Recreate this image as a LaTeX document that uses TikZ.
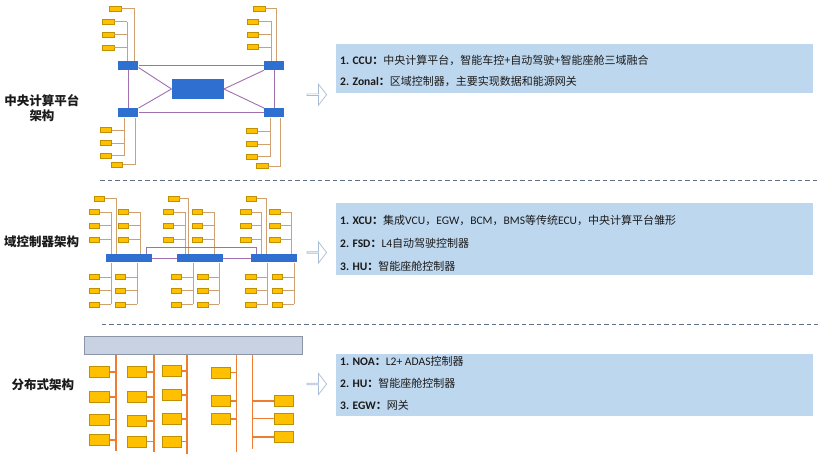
\documentclass[tikz,border=0pt]{standalone}
\usepackage{fontspec}
\setmainfont{Noto Sans CJK SC}
\newfontfamily\latf[Scale=1.05]{Carlito}
\usetikzlibrary{shapes.arrows}
\definecolor{blueC}{HTML}{2F6FD0}
\definecolor{purp}{HTML}{A070B0}
\definecolor{gold}{HTML}{FFC000}
\definecolor{goldb}{HTML}{BF9000}
\definecolor{tan}{HTML}{CFA070}
\definecolor{orng}{HTML}{ED7D31}
\definecolor{tbfill}{HTML}{BDD7EE}
\definecolor{arrc}{HTML}{A9BCD6}
\definecolor{gbarf}{HTML}{C8D2E2}
\definecolor{gbarb}{HTML}{8A95A5}
\definecolor{dashc}{HTML}{5F6F85}
\definecolor{txt}{HTML}{1A1A1A}
\begin{document}
\begin{tikzpicture}[x=1pt,y=-1pt,
  bluebox/.style={draw=none,fill=blueC,inner sep=0,rectangle},
  ytop/.style={draw=goldb,fill=gold,line width=0.5pt,inner sep=0,minimum width=11.5pt,minimum height=5pt},
  ymid/.style={draw=goldb,fill=gold,line width=0.5pt,inner sep=0,minimum width=10.3pt,minimum height=5pt},
  ybot/.style={draw=goldb,fill=gold,line width=0.6pt,inner sep=0,minimum width=19.5pt,minimum height=11pt},
  pline/.style={draw=purp,line width=0.9pt},
  tline/.style={draw=tan,line width=0.8pt},
  oline/.style={draw=orng,line width=1.6pt},
  tbox/.style={fill=tbfill,draw=none,inner sep=0,anchor=north west},
  tline1/.style={anchor=west,inner sep=0,font=\fontsize{11}{13}\selectfont,text=txt},
  arr/.style={single arrow,draw=arrc,fill=white,line width=0.7pt,minimum width=21pt,minimum height=19.5pt,single arrow head extend=4pt,single arrow tip angle=105,inner sep=0},
  sect/.style={font=\fontsize{12.5}{15.5}\selectfont\bfseries,text=txt,align=center,inner sep=0},
  dsh/.style={draw=dashc,line width=1pt,dash pattern=on 4.5pt off 3pt}
]
\useasboundingbox (0,0) rectangle (831,461);
\fill[white] (0,0) rectangle (831,461);

% ---------------- section labels
\node[sect] (lab1) at (42,108) {中央计算平台\\架构};
\node[sect] (lab2) at (41.7,242) {域控制器架构};
\node[sect] (lab3) at (42.8,385) {分布式架构};

% ---------------- dashed separators
\coordinate (d1a) at (100,180); \coordinate (d1b) at (818,180);
\coordinate (d2a) at (101.7,324.3); \coordinate (d2b) at (818,324.3);
\draw[dsh] (d1a) -- (d1b);
\draw[dsh] (d2a) -- (d2b);

% ---------------- top diagram: central compute
\node[bluebox,minimum width=20pt,minimum height=9pt] (TL) at (128.3,65.5) {};
\node[bluebox,minimum width=20pt,minimum height=9pt] (TR) at (274.3,65.5) {};
\node[bluebox,minimum width=20pt,minimum height=9pt] (BL) at (128.3,112.8) {};
\node[bluebox,minimum width=20pt,minimum height=9pt] (BR) at (274.3,112.8) {};
\node[bluebox,minimum width=52pt,minimum height=19.4pt] (CC) at (197.7,89) {};
\draw[pline] (TL.east) -- (TR.west);
\draw[pline] (BL.east) -- (BR.west);
\draw[pline] (TL.south) -- (BL.north);
\draw[pline] (TR.south) -- (BR.north);
\draw[pline] ([yshift=-2pt]TL.east) -- (CC.west);
\draw[pline] (BL.north east) -- (CC.west);
\draw[pline] (TR.south west) -- (CC.east);
\draw[pline] (BR.north west) -- (CC.east);

% TL cluster
\node[ytop] (tl0) at (115,8.8) {};
\draw[tline] (tl0.east) -| ([xshift=5.7pt]TL.north);
\coordinate (vTL) at (127.3,21.7);
\draw[tline] (vTL) -- (vTL |- TL.north);
\foreach \y [count=\k] in {21.7,34.5,47.5}{
  \node[ytop] (tl\k) at (108.3,\y) {};
  \draw[tline] (tl\k.east) -- (tl\k.east -| vTL);
}
% TR cluster
\node[ytop] (tr0) at (259.2,8.4) {};
\draw[tline] (tr0.east) -| ([xshift=2.4pt]TR.north);
\coordinate (vTR) at (271.7,21.7);
\draw[tline] (vTR) -- (vTR |- TR.north);
\foreach \y [count=\k] in {21.7,34.3,47}{
  \node[ytop] (tr\k) at (252.8,\y) {};
  \draw[tline] (tr\k.east) -- (tr\k.east -| vTR);
}
% BL cluster
\coordinate (vBL) at (124.3,155.7);
\draw[tline] (vBL |- BL.south) -- (vBL);
\foreach \y [count=\k] in {130,143,155.7}{
  \node[ytop] (bl\k) at (105.8,\y) {};
  \draw[tline] (bl\k.east) -- (bl\k.east -| vBL);
}
\node[ytop] (bl4) at (116.5,164.8) {};
\draw[tline] (bl4.east) -| ([xshift=6.7pt]BL.south);
% BR cluster
\coordinate (vBR) at (270.7,156.7);
\draw[tline] (vBR |- BR.south) -- (vBR);
\foreach \y [count=\k] in {131,144,156.7}{
  \node[ytop] (br\k) at (251.7,\y) {};
  \draw[tline] (br\k.east) -- (br\k.east -| vBR);
}
\node[ytop] (br4) at (262,166) {};
\draw[tline] (br4.east) -| ([xshift=6.4pt]BR.south);

% ---------------- middle diagram: domain controllers
\foreach \n/\bx/\tx/\tv/\lx/\lv/\rx/\rv/\blx/\blv/\brx/\brv in {
 1/128.8/99.3/116/94.2/111/123/140/94.2/111/120.3/137.3,
 2/199.7/173.7/188.3/168.3/185/197.5/214.3/176.5/193.3/202.8/219.3,
 3/274.2/251.3/266.7/245.7/261.7/274.8/291.7/250.8/267.7/277.3/294}{
  \node[bluebox,minimum width=45.7pt,minimum height=8pt] (bar\n) at (\bx,258.3) {};
  \node[ymid] (bar\n t) at (\tx,198.3) {};
  \coordinate (T\n) at (\tv,198.3);
  \draw[tline] (bar\n t.east) -- (T\n) -- (T\n |- bar\n.north);
  \coordinate (L\n) at (\lv,212);
  \draw[tline] (L\n) -- (L\n |- bar\n.north);
  \coordinate (R\n) at (\rv,212);
  \draw[tline] (R\n) -- (R\n |- bar\n.north);
  \coordinate (BLv\n) at (\blv,304.3);
  \draw[tline] (BLv\n |- bar\n.south) -- (BLv\n);
  \coordinate (BRv\n) at (\brv,304.3);
  \draw[tline] (BRv\n |- bar\n.south) -- (BRv\n);
  \foreach \y [count=\k] in {212,225.8,239.8}{
    \node[ymid] (bar\n l\k) at (\lx,\y) {};
    \draw[tline] (bar\n l\k.east) -- (bar\n l\k.east -| L\n);
    \node[ymid] (bar\n r\k) at (\rx,\y) {};
    \draw[tline] (bar\n r\k.east) -- (bar\n r\k.east -| R\n);
  }
  \foreach \y [count=\k] in {277,290.3,304.3}{
    \node[ymid] (bar\n bl\k) at (\blx,\y) {};
    \draw[tline] (bar\n bl\k.east) -- (bar\n bl\k.east -| BLv\n);
    \node[ymid] (bar\n br\k) at (\brx,\y) {};
    \draw[tline] (bar\n br\k.east) -- (bar\n br\k.east -| BRv\n);
  }
}
\draw[pline] (bar1.east) -- (bar2.west);
\draw[pline] (bar2.east) -- (bar3.west);
\coordinate (brA) at (146.7,247.7);
\coordinate (brB) at (256.7,247.7);
\draw[pline] (brA |- bar1.north) -- (brA) -- (brB) -- (brB |- bar3.north);

% ---------------- bottom diagram: distributed
\node[draw=gbarb,fill=gbarf,line width=0.7pt,inner sep=0,minimum width=218.7pt,minimum height=18.4pt] (gbar) at (193.3,345.5) {};
\coordinate (o1) at (115.7,450.7);
\coordinate (o2) at (153.7,452);
\coordinate (o3) at (187,454);
\coordinate (o4) at (236.3,452);
\coordinate (o5) at (252.3,448.7);
\foreach \k in {1,...,5}{ \draw[oline] (o\k |- gbar.south) -- (o\k); }
\foreach \y [count=\k] in {371.8,397.2,419.5,439.8}{
  \node[ybot] (p1\k) at (99.5,\y) {};
  \draw[oline] (p1\k.east) -- (p1\k.east -| o1);
}
\foreach \y [count=\k] in {371.8,397,421.2,441.5}{
  \node[ybot] (p2\k) at (137,\y) {};
  \draw[oline] (p2\k.east) -- (p2\k.east -| o2);
}
\foreach \y [count=\k] in {370.8,395.2,419.2,441.5}{
  \node[ybot] (p3\k) at (172,\y) {};
  \draw[oline] (p3\k.east) -- (p3\k.east -| o3);
}
\foreach \y [count=\k] in {372.5,401.2,418.8}{
  \node[ybot] (p4\k) at (220.8,\y) {};
  \draw[oline] (p4\k.east) -- (p4\k.east -| o4);
}
\foreach \y [count=\k] in {400.8,418.5,437.2}{
  \node[ybot] (p5\k) at (283.7,\y) {};
  \draw[oline] (p5\k.west -| o5) -- (p5\k.west);
}

% ---------------- arrows
\node[arr] (ar1) at (316.5,94.7) {};
\node[arr] (ar2) at (316.5,252.5) {};
\node[arr] (ar3) at (316.5,384) {};

% ---------------- text boxes
\node[tbox,minimum width=476.7pt,minimum height=49pt] (tb1) at (336,43.3) {};
\node[tline1] (t11) at (340,60) {{\latf\bfseries 1. CCU}{\bfseries：}中央计算平台，智能车控+自动驾驶+智能座舱三域融合};
\node[tline1] (t12) at (340,81.7) {{\latf\bfseries 2. Zonal}{\bfseries：}区域控制器，主要实现数据和能源网关};

\node[tbox,minimum width=476.7pt,minimum height=72.7pt] (tb2) at (336,202.3) {};
\node[tline1] (t21) at (340,220) {{\latf\bfseries 1. XCU}{\bfseries：}集成{\latf VCU}，{\latf EGW}，{\latf BCM}，{\latf BMS}等传统{\latf ECU}，中央计算平台雏形};
\node[tline1] (t22) at (340,243.3) {{\latf\bfseries 2. FSD}{\bfseries：}{\latf L4}自动驾驶控制器};
\node[tline1] (t23) at (340,266) {{\latf\bfseries 3. HU}{\bfseries：}智能座舱控制器};

\node[tbox,minimum width=476.7pt,minimum height=62.7pt] (tb3) at (336,353.3) {};
\node[tline1] (t31) at (340,361.7) {{\latf\bfseries 1. NOA}{\bfseries：}{\latf L2+ ADAS}控制器};
\node[tline1] (t32) at (340,383.3) {{\latf\bfseries 2. HU}{\bfseries：}智能座舱控制器};
\node[tline1] (t33) at (340,405.7) {{\latf\bfseries 3. EGW}{\bfseries：}网关};
\end{tikzpicture}
\end{document}
